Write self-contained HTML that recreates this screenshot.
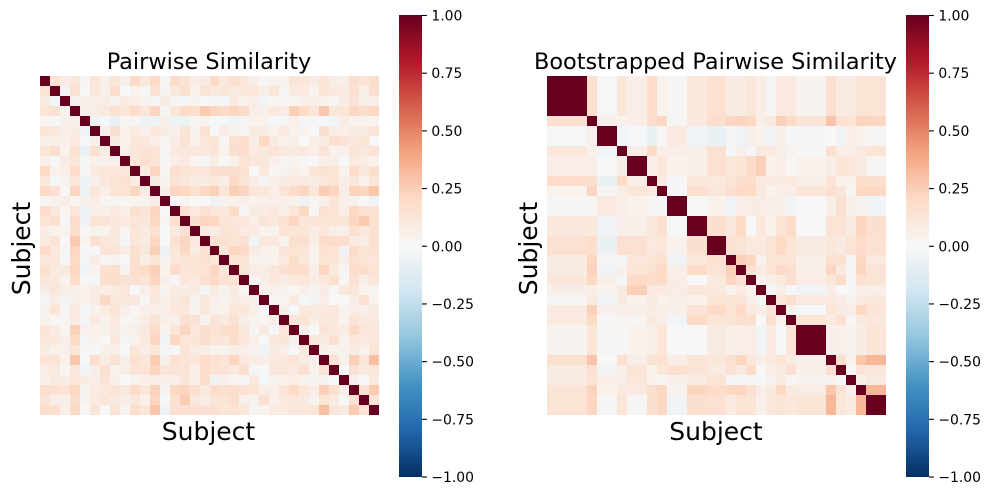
<!DOCTYPE html>
<html>
<head>
<meta charset="utf-8">
<title>Pairwise Similarity Heatmaps</title>
<style>
html,body{margin:0;padding:0;background:#fff;}
svg{display:block;font-family:"DejaVu Sans","Liberation Sans",sans-serif;}
</style>
</head>
<body>
<svg id="figure" width="991" height="495" viewBox="0 0 991 495" xmlns="http://www.w3.org/2000/svg">
<defs>
<linearGradient id="rdbu" x1="0" y1="0" x2="0" y2="1">
<stop offset="0" stop-color="#67001f"/><stop offset="0.1" stop-color="#b2182b"/><stop offset="0.2" stop-color="#d6604d"/><stop offset="0.3" stop-color="#f4a582"/><stop offset="0.4" stop-color="#fddbc7"/><stop offset="0.5" stop-color="#f7f7f7"/><stop offset="0.6" stop-color="#d1e5f0"/><stop offset="0.7" stop-color="#92c5de"/><stop offset="0.8" stop-color="#4393c3"/><stop offset="0.9" stop-color="#2166ac"/><stop offset="1" stop-color="#053061"/>
</linearGradient>
</defs>
<g id="panel-left">
<text x="209" y="69" font-size="22.4" text-anchor="middle" fill="#000">Pairwise Similarity</text>
<text x="208.5" y="440" font-size="25" text-anchor="middle" fill="#000">Subject</text>
<text transform="translate(30,248.5) rotate(-90)" font-size="25" text-anchor="middle" fill="#000">Subject</text>
<g id="cells-left" shape-rendering="crispEdges"></g>
<rect x="399" y="15" width="23" height="462" fill="url(#rdbu)"/>
<g id="ticks-left"></g>
</g>
<g id="panel-right">
<text x="715.5" y="69" font-size="22.4" text-anchor="middle" fill="#000">Bootstrapped Pairwise Similarity</text>
<text x="716" y="440" font-size="25" text-anchor="middle" fill="#000">Subject</text>
<text transform="translate(537,248.5) rotate(-90)" font-size="25" text-anchor="middle" fill="#000">Subject</text>
<g id="cells-right" shape-rendering="crispEdges"></g>
<rect x="906" y="15" width="23" height="462" fill="url(#rdbu)"/>
<g id="ticks-right"></g>
</g>
</svg>
<script>
// Colorbar tick values and printed labels
var colorbarTicks = [1, 0.75, 0.5, 0.25, 0, -0.25, -0.5, -0.75, -1];
var colorbarTickLabels = ["1.00", "0.75", "0.50", "0.25", "0.00", "\u22120.25", "\u22120.50", "\u22120.75", "\u22121.00"];

// Pairwise similarity, upper triangle without the diagonal, in hundredths
var pairwiseUpper = [
[13,7,11,2,12,5,12,5,18,10,18,1,17,13,7,8,18,10,15,11,6,1,3,3,12,11,7,13,7,5,16,13,16],
[-3,14,-1,10,5,16,-1,4,-2,14,3,10,15,4,13,9,11,8,10,11,6,12,1,8,9,3,13,9,8,14,5,15],
[3,5,6,6,3,8,6,3,1,7,2,-2,3,0,1,-2,9,4,7,-3,2,2,2,5,5,4,2,7,13,5,5],
[5,7,9,14,11,17,11,20,2,11,17,16,24,20,18,20,17,6,5,9,8,22,18,12,25,11,11,19,16,19],
[-4,-1,-6,1,1,-5,-5,5,-5,-5,1,3,-1,-2,-4,1,4,4,-1,-2,5,-2,-1,-1,-3,7,3,3,1],
[5,15,4,8,5,11,7,5,13,3,14,-1,7,4,-2,8,7,4,9,4,3,-1,15,6,6,8,8,12],
[7,4,11,10,6,2,6,13,4,11,13,1,14,16,7,19,8,4,5,0,5,7,14,13,10,12,0],
[5,11,13,13,1,9,10,10,9,12,3,15,16,8,10,13,9,8,10,6,13,4,5,13,9,13],
[11,14,13,1,6,9,2,-2,7,-1,4,13,11,10,5,2,3,-2,0,5,6,0,9,7,4],
[8,20,2,15,12,11,11,15,15,15,14,0,10,2,3,5,4,12,14,12,3,17,10,16],
[8,3,13,11,8,8,10,6,18,13,6,1,5,7,9,9,7,11,12,6,11,4,11],
[6,20,19,14,19,22,12,22,20,11,10,6,13,17,20,11,23,20,6,21,20,25],
[0,2,0,0,-5,3,4,5,3,5,6,5,4,-4,1,5,12,5,3,0,-4],
[14,9,14,11,10,17,1,8,8,10,5,12,19,1,14,13,6,19,14,14],
[15,20,19,12,11,11,6,12,10,14,20,11,12,12,13,12,20,24,14],
[9,7,13,13,8,9,3,3,13,11,12,7,11,5,5,15,10,14],
[14,14,13,14,-3,10,10,3,15,15,6,17,17,16,9,7,14],
[12,20,18,8,5,4,13,13,12,4,14,13,-4,18,12,14],
[12,13,4,3,4,9,16,11,3,12,13,5,15,12,11],
[13,8,7,11,14,17,16,6,20,9,2,16,16,13],
[1,6,11,6,10,11,6,10,15,1,14,5,11],
[5,5,3,2,6,3,7,1,10,12,3,2],
[-1,2,8,-1,-4,6,0,-1,6,14,4],
[6,-1,9,8,9,10,3,6,5,8],
[11,12,6,10,10,4,12,9,9],
[5,0,13,9,7,18,11,10],
[10,7,14,3,11,9,10],
[5,4,3,7,3,12],
[13,3,22,12,28],
[0,14,8,11],
[5,0,8],
[14,24],
[13]
];

// Bootstrapped similarity: number of subjects in each block
var bootstrapBlockSizes = [4,1,2,1,2,1,1,2,2,2,1,1,1,1,1,1,1,3,1,1,1,1,2];
// Bootstrapped similarity between blocks, upper triangle without the diagonal, in hundredths
var bootstrapUpper = [
[15,-1,11,6,17,4,1,10,14,8,8,11,6,1,9,9,3,15,8,8,13,13],
[5,4,6,16,20,1,9,16,20,21,19,6,9,22,18,12,26,14,13,21,20],
[-3,-1,-6,1,9,-4,-6,1,-4,5,4,-4,5,-1,-2,0,-4,6,4,1],
[6,18,6,6,5,14,-1,5,-2,9,9,5,3,1,15,6,6,9,12],
[6,11,4,5,14,11,12,18,22,4,6,2,4,6,12,11,8,1],
[8,1,10,9,12,15,16,9,8,7,9,5,13,4,4,16,15],
[-1,14,11,15,18,18,9,4,6,6,12,14,11,2,19,19],
[0,4,-4,6,7,7,5,5,-3,0,6,14,5,3,-3],
[15,10,18,0,10,4,13,18,0,13,13,8,20,15],
[14,13,9,9,12,18,12,8,11,8,13,17,14],
[22,20,3,13,12,12,5,15,14,-2,19,9],
[14,8,13,18,15,6,20,9,1,20,13],
[4,5,9,15,7,11,17,1,14,12],
[1,6,0,-3,6,0,-1,6,5],
[11,15,9,9,7,3,9,10],
[3,0,12,7,7,19,12],
[12,8,14,1,9,10],
[5,5,3,7,12],
[15,3,25,30],
[0,13,11],
[5,8],
[30]
];

var SVGNS = "http://www.w3.org/2000/svg";
var colormapStops = [[5,48,97],[33,102,172],[67,147,195],[146,197,222],[209,229,240],[247,247,247],[253,219,199],[244,165,130],[214,96,77],[178,24,43],[103,0,31]];
// Eye-read values came out slightly pale against the reference colours
var valueToColorGain = 1.1;

function colorFor(value) {
  var t = (Math.max(-1, Math.min(1, value * valueToColorGain)) + 1) / 2 * 10;
  var i = Math.min(9, Math.floor(t));
  var f = t - i;
  var a = colormapStops[i], b = colormapStops[i + 1];
  return "rgb(" + Math.round(a[0] + (b[0] - a[0]) * f) + "," + Math.round(a[1] + (b[1] - a[1]) * f) + "," + Math.round(a[2] + (b[2] - a[2]) * f) + ")";
}

function lookupUpper(upper, i, j) {
  if (i === j) return 100;
  var lo = Math.min(i, j), hi = Math.max(i, j);
  return upper[lo][hi - lo - 1];
}

function expandBlocks(sizes) {
  var membership = [];
  sizes.forEach(function (size, block) {
    for (var k = 0; k < size; k++) membership.push(block);
  });
  return membership;
}

function drawHeatmap(containerId, cellName, count, valueAt, left, top, extent) {
  var group = document.getElementById(containerId);
  var scale = function (i) { return extent * i / count; };
  for (var r = 0; r < count; r++) {
    for (var c = 0; c < count; c++) {
      var x0 = Math.round(left + scale(c)), x1 = Math.round(left + scale(c + 1));
      var y0 = Math.round(top + scale(r)), y1 = Math.round(top + scale(r + 1));
      var cell = document.createElementNS(SVGNS, "rect");
      
      
      cell.setAttribute("x", x0);
      cell.setAttribute("y", y0);
      cell.setAttribute("width", x1 - x0);
      cell.setAttribute("height", y1 - y0);
      cell.setAttribute("fill", colorFor(valueAt(r, c) / 100));
      group.appendChild(cell);
    }
  }
}

function drawColorbarTicks(containerId, barRight, barTop, barBottom) {
  var group = document.getElementById(containerId);
  var yScale = function (v) { return barTop + (1 - v) / 2 * (barBottom - barTop); };
  colorbarTicks.forEach(function (value, i) {
    var y = yScale(value);
    var tick = document.createElementNS(SVGNS, "line");
    
    
    tick.setAttribute("x1", barRight);
    tick.setAttribute("x2", barRight + 4.9);
    tick.setAttribute("y1", y);
    tick.setAttribute("y2", y);
    tick.setAttribute("stroke", "#000");
    tick.setAttribute("stroke-width", "1.1");
    group.appendChild(tick);
    var label = document.createElementNS(SVGNS, "text");
    
    
    label.setAttribute("x", barRight + 9.4);
    label.setAttribute("y", y + 5);
    label.setAttribute("font-size", "13.9");
    label.setAttribute("fill", "#000");
    label.textContent = colorbarTickLabels[i];
    group.appendChild(label);
  });
}

var bootstrapMembership = expandBlocks(bootstrapBlockSizes);

drawHeatmap("cells-left", "pairwise-cell", pairwiseUpper.length + 1, function (r, c) {
  return lookupUpper(pairwiseUpper, r, c);
}, 40, 76, 339);

drawHeatmap("cells-right", "bootstrap-cell", bootstrapMembership.length, function (r, c) {
  return lookupUpper(bootstrapUpper, bootstrapMembership[r], bootstrapMembership[c]);
}, 547, 76, 339);

drawColorbarTicks("ticks-left", 422, 15.5, 477);
drawColorbarTicks("ticks-right", 929, 15.5, 477);
</script>
</body>
</html>
